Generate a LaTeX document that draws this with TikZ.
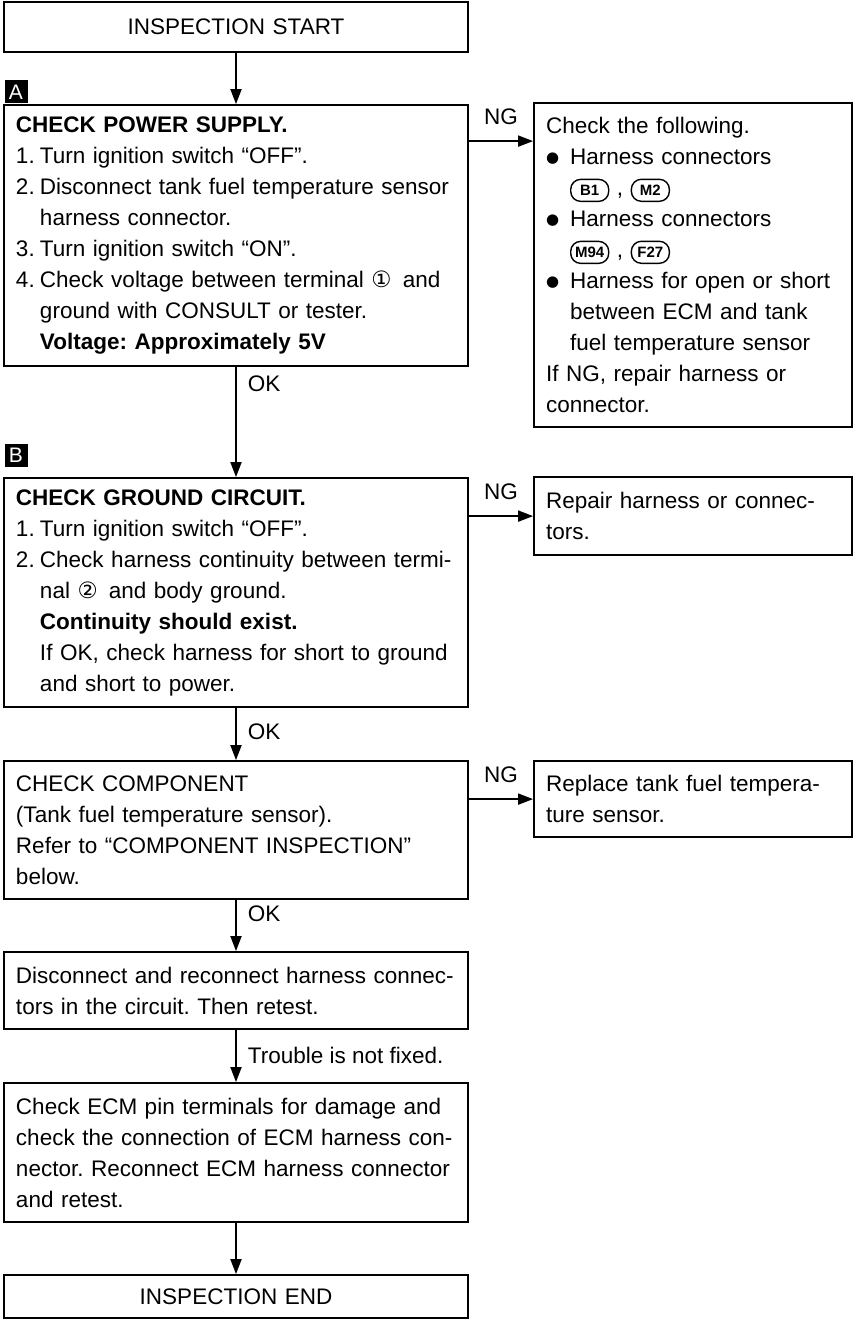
\documentclass[tikz,border=0pt]{standalone}
\usepackage{fontspec}
\setmainfont{Liberation Sans}
\newfontfamily\circfont{DejaVu Sans}
\usetikzlibrary{arrows.meta}

\newcommand{\hitem}[2]{\par\noindent\hangindent=24pt\hangafter=1\makebox[24pt][l]{#1}#2\par}
\newcommand{\conn}[1]{\tikz[baseline=(p.base)]\node[pill] (p) {#1};}
\newcommand{\dotmark}{\raisebox{2.5pt}{\circfont\fontsize{15}{31}\selectfont ●}}

\tikzset{
    box/.style={draw, line width=1.8pt, inner xsep=12pt, inner ysep=0pt, align=left,
        font=\fontsize{22.5}{31}\selectfont\frenchspacing},
    mainbox/.style={box, text width=440pt, minimum height=#1},
    sidebox/.style={box, text width=294pt, minimum height=#1},
    arr/.style={-{Triangle[length=15pt,width=11pt]}, line width=1.8pt},
    lbl/.style={font=\fontsize{22.5}{31}\selectfont\frenchspacing, inner sep=0pt},
    tag/.style={fill=black, text=white, minimum size=23pt, inner sep=0pt,
        font=\fontsize{21}{21}\selectfont},
    pill/.style={draw, line width=1.4pt, rounded corners=10pt, text width={},
        minimum width=38pt, minimum height=22pt, inner sep=0pt,
        font=\fontsize{15}{15}\selectfont\bfseries}
}

\begin{document}
\begin{tikzpicture}[x=1pt, y=-1pt]
    \useasboundingbox (0,0) rectangle (854,1321);

    \node[mainbox=50pt, align=center] (start) at (236,27) {INSPECTION START};

    \node[tag] (tagA) at (16,92) {A};
    \node[mainbox=261pt] (A) at (236,235.5) {\noindent\textbf{CHECK POWER SUPPLY.}\par
        \hitem{1.}{Turn ignition switch “OFF”.}
        \hitem{2.}{Disconnect tank fuel temperature sensor\newline harness connector.}
        \hitem{3.}{Turn ignition switch “ON”.}
        \hitem{4.}{Check voltage between terminal {\circfont ①}\enspace and\newline ground with CONSULT or tester.\newline\textbf{Voltage: Approximately 5V}}};
    \node[sidebox=324pt] (R1) at (693,265) {\noindent Check the following.\par
        \hitem{\dotmark}{Harness connectors\newline\conn{B1} , \conn{M2}}
        \hitem{\dotmark}{Harness connectors\newline\conn{M94} , \conn{F27}}
        \hitem{\dotmark}{Harness for open or short\newline between ECM and tank\newline fuel temperature sensor}
        \noindent If NG, repair harness or\newline connector.};

    \node[tag] (tagB) at (16,455) {B};
    \node[mainbox=229pt] (B) at (236,592.5) {\noindent\textbf{CHECK GROUND CIRCUIT.}\par
        \hitem{1.}{Turn ignition switch “OFF”.}
        \hitem{2.}{Check harness continuity between termi-\newline nal {\circfont ②}\enspace and body ground.\newline\textbf{Continuity should exist.}\newline If OK, check harness for short to ground\newline and short to power.}};
    \node[sidebox=78pt] (R2) at (693,516) {Repair harness or connec-\\tors.};

    \node[mainbox=138pt] (C) at (236,830) {CHECK COMPONENT\\(Tank fuel temperature sensor).\\Refer to “COMPONENT INSPECTION”\\below.};
    \node[sidebox=76pt] (R3) at (693,799) {Replace tank fuel tempera-\\ture sensor.};

    \node[mainbox=77pt] (D) at (236,990.5) {Disconnect and reconnect harness connec-\\tors in the circuit. Then retest.};
    \node[mainbox=139pt] (E) at (236,1152.5) {Check ECM pin terminals for damage and\\check the connection of ECM harness con-\\nector. Reconnect ECM harness connector\\and retest.};
    \node[mainbox=43pt, align=center] (F) at (236,1296.5) {INSPECTION END};

    \draw[arr] (start.south) -- (A.north);
    \draw[arr] (A.south) -- (B.north) node[lbl, pos=0.15, anchor=west, xshift=11pt] {OK};
    \draw[arr] (B.south) -- (C.north) node[lbl, pos=0.45, anchor=west, xshift=11pt] {OK};
    \draw[arr] (C.south) -- (D.north) node[lbl, pos=0.27, anchor=west, xshift=11pt] {OK};
    \draw[arr] (D.south) -- (E.north) node[lbl, pos=0.48, anchor=west, xshift=11pt] {Trouble is not fixed.};
    \draw[arr] (E.south) -- (F.north);

    \coordinate (ngA) at ([yshift=-37pt]A.north east);
    \coordinate (ngB) at ([yshift=-39pt]B.north east);
    \coordinate (ngC) at ([yshift=-39pt]C.north east);
    \draw[arr] (ngA) -- (ngA -| R1.west) node[lbl, midway, above=15pt] {NG};
    \draw[arr] (ngB) -- (ngB -| R2.west) node[lbl, midway, above=15pt] {NG};
    \draw[arr] (ngC) -- (ngC -| R3.west) node[lbl, midway, above=15pt] {NG};
\end{tikzpicture}
\end{document}
